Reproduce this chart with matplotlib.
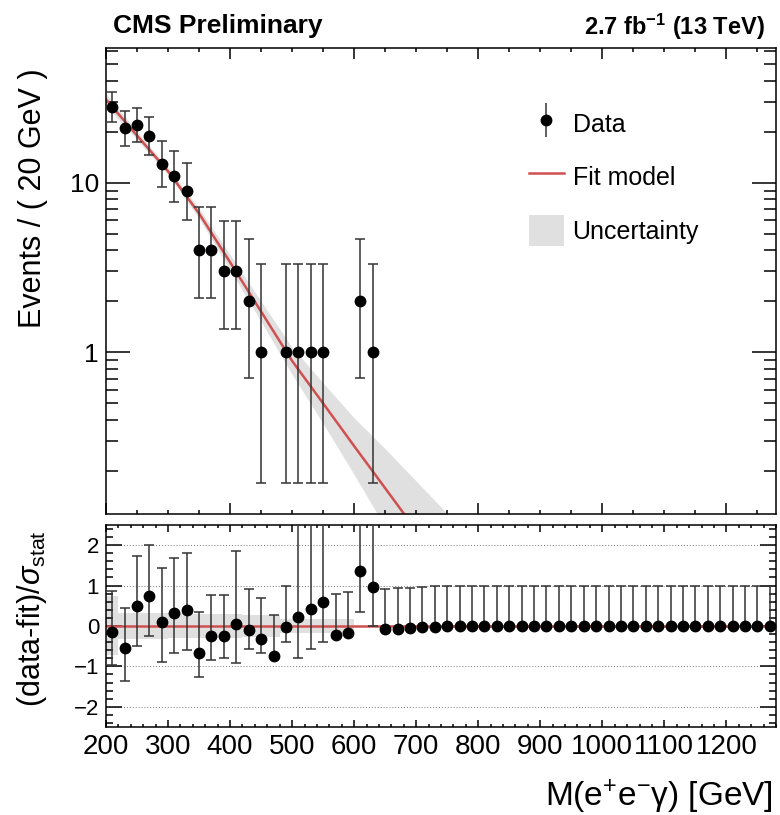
import matplotlib
matplotlib.use('Agg')
import matplotlib.pyplot as plt
import numpy as np
from matplotlib.ticker import MultipleLocator, LogLocator, NullFormatter
from matplotlib.patches import Patch
from matplotlib.lines import Line2D

plt.rcParams['font.family'] = ['Liberation Sans', 'DejaVu Sans']
plt.rcParams['mathtext.fontset'] = 'custom'
plt.rcParams['mathtext.rm'] = 'Liberation Sans'
plt.rcParams['mathtext.it'] = 'Liberation Sans:italic'
plt.rcParams['mathtext.bf'] = 'Liberation Sans:bold'
plt.rcParams['mathtext.sf'] = 'Liberation Sans'

# ---------------- data ----------------
bin_centers = np.arange(210, 1280, 20)          # 54 bins of 20 GeV, 200-1280

# observed events, bins 210 ... 630 (all later bins are empty)
counts = [28, 21, 22, 19, 13, 11, 9, 4, 4, 3, 3, 2, 1, 0, 1, 1, 1, 1, 0, 0, 2, 1]
counts_err_lo = [5.26, 4.54, 4.65, 4.32, 3.55, 3.26, 2.94, 1.91, 1.91, 1.63, 1.63, 1.29,
                 0.83, 0.0, 0.83, 0.83, 0.83, 0.83, 0.0, 0.0, 1.29, 0.83]
counts_err_hi = [6.36, 5.66, 5.77, 5.44, 4.71, 4.43, 4.12, 3.16, 3.16, 2.92, 2.92, 2.64,
                 2.30, 1.84, 2.30, 2.30, 2.30, 2.30, 1.84, 1.84, 2.64, 2.30]

# fit model and its uncertainty band
fit_x = [200, 250, 300, 350, 400, 450, 500, 550, 600, 650, 700, 750, 800]
fit_y = [31.0, 19.0, 11.7, 6.6, 3.4, 1.74, 0.89, 0.50, 0.28, 0.158, 0.089, 0.050, 0.028]
band_lo = [28.6, 17.9, 11.2, 6.16, 3.07, 1.52, 0.74, 0.38, 0.19, 0.093, 0.046, 0.022, 0.011]
band_hi = [33.6, 20.1, 12.25, 7.07, 3.77, 2.00, 1.07, 0.66, 0.41, 0.27, 0.174, 0.112, 0.070]

# pull values (data-fit)/sigma_stat for all 54 bins
pull = ([-0.14, -0.54, 0.49, 0.73, 0.11, 0.32, 0.40, -0.67, -0.25, -0.25, 0.06, -0.09,
         -0.32, -0.74, -0.02, 0.21, 0.42, 0.59, -0.22, -0.17, 1.35, 0.97, -0.08, -0.07,
         -0.05, -0.03, -0.02, -0.01, -0.01] + [0.0] * 25)
pull_err_hi = ([1.01, 0.99, 1.25, 1.27, 1.32, 1.36, 1.41, 1.01, 1.02, 1.02, 1.80, 1.00,
                1.00, 1.00, 1.00, 2.90, 2.90, 2.90, 1.00, 1.00, 1.50, 2.00] + [1.0] * 32)
pull_err_lo = ([0.82, 0.81, 0.98, 0.99, 1.01, 1.00, 0.99, 0.60, 0.59, 0.55, 0.98, 0.49,
                0.36, 0.0, 0.37, 1.00, 1.00, 0.99, 0.0, 0.0, 1.00, 0.98] + [0.0] * 32)

# pull-panel uncertainty band (step, 20 GeV bins from 200 to 600)
pull_band_edges = [200, 220, 240, 260, 280, 300, 320, 340, 360, 380, 400, 420, 440, 460,
                   480, 500, 520, 540, 560, 580, 600]
pull_band_hw = [0.73, 0.33, 0.33, 0.32, 0.32, 0.31, 0.31, 0.30, 0.30, 0.29, 0.29, 0.28,
                0.28, 0.27, 0.18, 0.18, 0.18, 0.17, 0.17, 0.17]

# ---------------- figure ----------------
fig = plt.figure(figsize=(7.8, 8.15), dpi=100)
ax1 = fig.add_axes([0.1359, 0.3699, 0.859, 0.5706])
ax2 = fig.add_axes([0.1359, 0.108, 0.859, 0.2479])

RED = '#d05050'
BAND = '#e0e0e0'
EC = '#333333'

# top panel
ax1.fill_between(fit_x, band_lo, band_hi, color=BAND, lw=0, zorder=1)
ax1.plot(fit_x, fit_y, color=RED, lw=1.8, zorder=2)
n_top = len(counts)
xc = bin_centers[:n_top]
cnt = np.array(counts, dtype=float)
m = cnt > 0
ax1.errorbar(xc[m], cnt[m], yerr=[np.array(counts_err_lo)[m], np.array(counts_err_hi)[m]],
             fmt='o', color='black', ms=7.5, ecolor=EC, elinewidth=1.1,
             capsize=3.5, capthick=1.1, zorder=3)
ax1.set_yscale('log')
ax1.set_xlim(200, 1280)
ax1.set_ylim(0.112, 62)
ax1.set_yticks([1, 10])
ax1.set_yticklabels(['1', '10'])
ax1.yaxis.set_minor_locator(LogLocator(base=10, subs=np.arange(2, 10)))
ax1.yaxis.set_minor_formatter(NullFormatter())
ax1.xaxis.set_major_locator(MultipleLocator(200))
ax1.xaxis.set_minor_locator(MultipleLocator(50))
ax1.tick_params(axis='both', which='both', direction='in', top=True, right=True,
                labelbottom=False, width=1.1)
ax1.tick_params(axis='y', which='major', length=17, labelsize=19, pad=5)
ax1.tick_params(axis='y', which='minor', length=8.6)
ax1.tick_params(axis='x', which='major', length=7.7)
ax1.tick_params(axis='x', which='minor', length=3)
for s in ax1.spines.values():
    s.set_linewidth(1.1)
ax1.set_ylabel('Events / ( 20 GeV )', fontsize=22, loc='top')
ax1.yaxis.set_label_coords(-0.087, 0.958)

data_handle = (Line2D([], [], color=EC, marker='|', ms=24, mew=1.1, ls='none'),
               Line2D([], [], color='black', marker='o', ms=7.5, ls='none'))
handles = [data_handle, Line2D([], [], color=RED, lw=1.8),
           Patch(facecolor=BAND, edgecolor='none')]
ax1.legend(handles, ['Data', 'Fit model', 'Uncertainty'], loc='upper left',
           bbox_to_anchor=(0.631, 0.872), frameon=False, fontsize=18,
           handlelength=1.4, handleheight=1.5, handletextpad=0.35, labelspacing=0.92,
           borderpad=0, borderaxespad=0)

# bottom panel
ax2.grid(axis='y', which='major', ls=(0, (1, 2)), color='#777777', lw=0.7, zorder=0)
ax2.fill_between(pull_band_edges, [-h for h in pull_band_hw + [pull_band_hw[-1]]],
                 pull_band_hw + [pull_band_hw[-1]], step='post', color=BAND, lw=0, zorder=1)
ax2.axhline(0, color=RED, lw=1.8, zorder=2)
ax2.errorbar(bin_centers, pull, yerr=[pull_err_lo, pull_err_hi], fmt='o', color='black',
             ms=7.5, ecolor=EC, elinewidth=1.1, capsize=3.5, capthick=1.1, zorder=3)
ax2.set_xlim(200, 1280)
ax2.set_ylim(-2.5, 2.5)
ax2.yaxis.set_major_locator(MultipleLocator(1))
ax2.yaxis.set_minor_locator(MultipleLocator(0.2))
ax2.xaxis.set_major_locator(MultipleLocator(100))
ax2.xaxis.set_minor_locator(MultipleLocator(20))
ax2.tick_params(axis='both', which='both', direction='in', top=True, right=True, width=1.1)
ax2.tick_params(axis='y', which='major', length=11.5, labelsize=16, pad=5)
ax2.tick_params(axis='y', which='minor', length=5)
ax2.tick_params(axis='x', which='major', length=5, labelsize=20, pad=5)
ax2.tick_params(axis='x', which='minor', length=2.5)
for s in ax2.spines.values():
    s.set_linewidth(1.1)
ax2.set_ylabel(r'(data-fit)/$\sigma_{\mathrm{stat}}$', fontsize=22, loc='top')
ax2.yaxis.set_label_coords(-0.085, 0.975)
ax2.set_xlabel(r'M(e$^{+}$e$^{-}$γ) [GeV]', fontsize=24, loc='right')
ax2.xaxis.set_label_coords(0.9955, -0.252)

fig.text(113 / 780, 1 - 33.5 / 815, 'CMS Preliminary', fontsize=19, fontweight='bold',
         ha='left', va='baseline')
fig.text(765 / 780, 1 - 35 / 815, r'2.7 fb$^{\mathbf{-1}}$ (13 TeV)', fontsize=17,
         fontweight='bold', ha='right', va='baseline')

fig.savefig('out.png', dpi=100)
